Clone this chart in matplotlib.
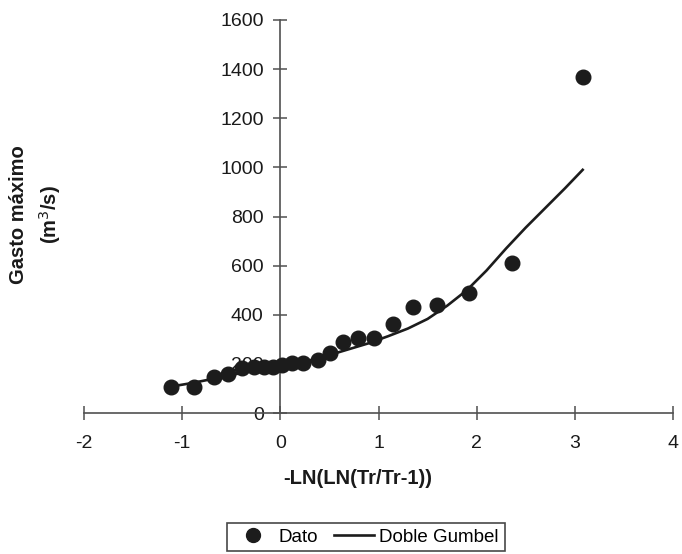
import matplotlib
matplotlib.use("Agg")
import matplotlib.pyplot as plt
from matplotlib.lines import Line2D

plt.rcParams['font.family'] = ['Liberation Sans', 'DejaVu Sans']
plt.rcParams['axes.unicode_minus'] = False

# variable reducida de Gumbel y gastos observados
x_dato = [-1.11, -0.88, -0.68, -0.53, -0.39, -0.27, -0.17, -0.07, 0.02, 0.12, 0.23,
          0.38, 0.51, 0.64, 0.79, 0.95, 1.15, 1.35, 1.60, 1.92, 2.36, 3.08]
q_dato = [106, 106, 147, 159, 183, 187, 187, 187, 196, 204, 204,
          216, 244, 289, 305, 305, 362, 432, 440, 489, 611, 1369]

# ajuste doble Gumbel
x_ajuste = [-1.11, -0.9, -0.7, -0.5, -0.3, -0.1, 0.1, 0.3, 0.5, 0.7, 0.9,
            1.1, 1.3, 1.5, 1.7, 1.9, 2.1, 2.3, 2.5, 2.7, 2.9, 3.08]
q_ajuste = [108, 122, 138, 155, 170, 184, 199, 214, 236, 260, 284,
            313, 344, 383, 437, 500, 580, 670, 755, 835, 915, 990]

xticks = [-2, -1, 0, 1, 2, 3, 4]
yticks = [0, 200, 400, 600, 800, 1000, 1200, 1400, 1600]

fig = plt.figure(figsize=(6.82, 5.54), dpi=100)
ax = fig.add_axes([0.1232, 0.2545, 0.8636, 0.7094])

color = '#1c1c1c'
ax.plot(x_ajuste, q_ajuste, color=color, lw=1.9, zorder=2)
ax.plot(x_dato, q_dato, 'o', color=color, ms=10.5, zorder=3, clip_on=False)

ax.set_xlim(-2, 4)
ax.set_ylim(0, 1600)
ax.set_xticks(xticks)
ax.set_yticks(yticks)

for s in ['top', 'right']:
    ax.spines[s].set_visible(False)
ax.spines['left'].set_position(('data', 0))
ax.spines['bottom'].set_position(('data', 0))
for s in ['left', 'bottom']:
    ax.spines[s].set_color('#505050')
    ax.spines[s].set_linewidth(1.2)

ax.tick_params(axis='y', direction='inout', length=10, width=1.1, color='#505050',
               labelsize=14, pad=7, labelcolor='#1a1a1a')
ax.tick_params(axis='x', direction='inout', length=10, width=1.1, color='#505050',
               labelsize=14, pad=11, labelcolor='#1a1a1a')

fig.text(0.525, 1 - 479 / 554, '-LN(LN(Tr/Tr-1))', ha='center', va='center',
         fontsize=14.5, fontweight='bold', color='#1a1a1a')
fig.text(36 / 682, 1 - 215 / 554, 'Gasto máximo\n(m$^3$/s)', ha='center', va='center',
         rotation=90, fontsize=14.5, fontweight='bold', color='#1a1a1a',
         multialignment='center', linespacing=1.45)

handles = [Line2D([], [], marker='o', ls='none', color=color, ms=10),
           Line2D([], [], color=color, lw=1.9)]
leg = fig.legend(handles, ['Dato', 'Doble Gumbel'], loc='center',
                 bbox_to_anchor=(366 / 682, 1 - 537 / 554), ncol=2, fontsize=13.5,
                 frameon=True, fancybox=False, edgecolor='#1a1a1a', handlelength=2.1,
                 columnspacing=0.9, handletextpad=0.3, borderpad=0.3, borderaxespad=0)
leg.get_frame().set_linewidth(1.2)

fig.savefig('out.png', dpi=100)
